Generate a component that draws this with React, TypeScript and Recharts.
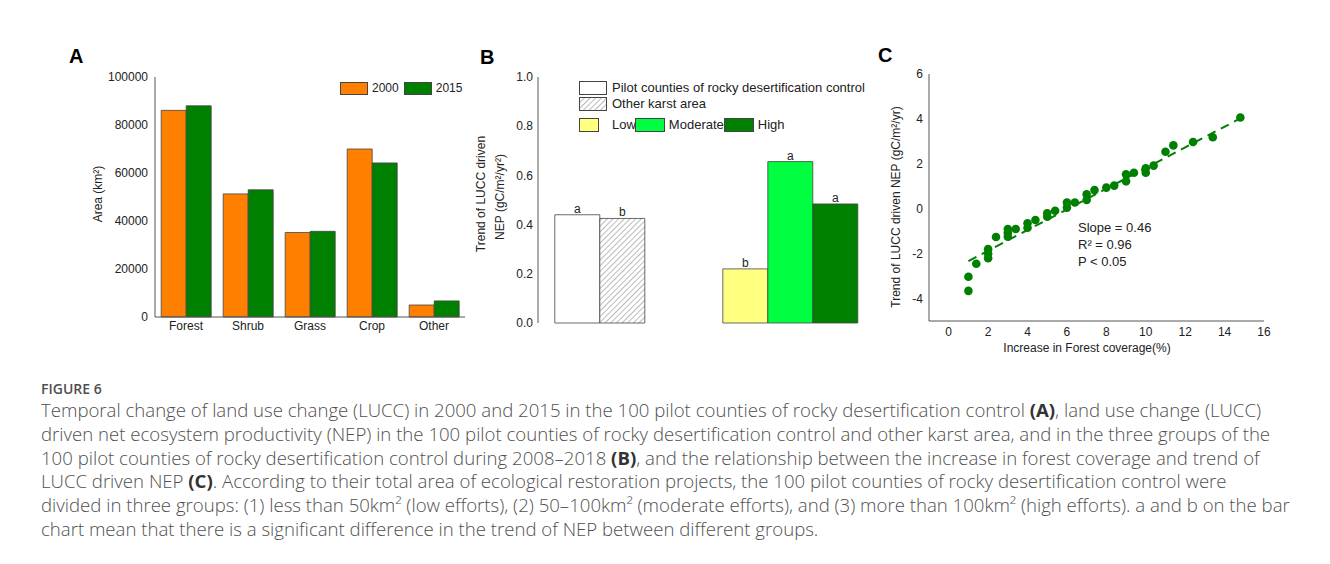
import React from "react"
import {
  Bar,
  BarChart,
  Cell,
  LabelList,
  Scatter,
  ScatterChart,
  XAxis,
  YAxis,
} from "recharts"

const FONT = "'Liberation Sans', Arial, sans-serif"
const INK = "#222"
const AXIS = "#555"
const EDGE = "#444"
const tick12 = { fontSize: 12, fill: INK, fontFamily: FONT }

/* ---------- A: land use area ---------- */

const landTypes = ["Forest", "Shrub", "Grass", "Crop", "Other"]
const area2000 = [86100, 51300, 35200, 70000, 5000]
const area2015 = [88000, 53000, 35700, 64200, 6700]
const areaTicks = [0, 20000, 40000, 60000, 80000, 100000]
const yearKeys = ["2000", "2015"]
const yearColors = ["#FF8000", "#008000"]

const landData = landTypes.map((t, i) => ({ type: t, a2000: area2000[i], a2015: area2015[i] }))

/* ---------- B: LUCC driven NEP trend ---------- */

const groups = ["Karst", "Effort"]
const firstBar = [0.44, 0.22]
const secondBar = [0.425, 0.656]
const thirdBar = [null, 0.484]
const firstLetters = ["a", "b"]
const secondLetters = ["b", "a"]
const thirdLetters = [null, "a"]
const firstFills = ["#ffffff", "#FFFF80"]
const secondFills = ["url(#hatch)", "#00FF40"]
const thirdFills = ["none", "#008000"]
const nepTicks = [0, 0.2, 0.4, 0.6, 0.8, 1.0]

const nepData = groups.map((g, i) => ({
  g,
  v1: firstBar[i],
  v2: secondBar[i],
  v3: thirdBar[i],
  l1: firstLetters[i],
  l2: secondLetters[i],
  l3: thirdLetters[i],
}))

const areaLegend = [
  { label: "Pilot counties of rocky desertification control", fill: "#ffffff" },
  { label: "Other karst area", fill: "hatch" },
]
const effortLegend = [
  { label: "Low", fill: "#FFFF80" },
  { label: "Moderate", fill: "#00FF40" },
  { label: "High", fill: "#008000" },
]

/* ---------- C: forest coverage vs NEP ---------- */

const coverGain = [1, 1, 1.4, 2, 2, 2, 2.4, 3, 3, 3, 3.4, 4, 4, 4.4, 5, 5, 5.4, 6, 6, 6.4, 7, 7, 7.4, 8, 8.4, 9, 9, 9.4, 10, 10, 10.4, 11, 11.4, 12.4, 13.4, 14.8]
const nepTrend = [-3.03, -3.66, -2.45, -1.8, -2.0, -2.2, -1.26, -0.9, -1.07, -1.25, -0.9, -0.65, -0.85, -0.5, -0.2, -0.36, -0.09, 0.28, 0.05, 0.28, 0.64, 0.39, 0.83, 0.94, 1.03, 1.53, 1.22, 1.6, 1.8, 1.6, 1.92, 2.54, 2.82, 2.97, 3.18, 4.06]
const fitX = [1, 14.8]
const fitY = [-2.33, 4.02]
const gainTicks = [0, 2, 4, 6, 8, 10, 12, 14, 16]
const trendTicks = [-4, -2, 0, 2, 4, 6]
const statLines = ["Slope = 0.46", "R² = 0.96", "P < 0.05"]

const points = coverGain.map((x, i) => ({ x, y: nepTrend[i] }))
const fitLine = fitX.map((x, i) => ({ x, y: fitY[i] }))

/* ---------- caption ---------- */

const bold = { fontWeight: 700, color: "#333" }
const captionLines: React.ReactNode[] = [
  <>Temporal change of land use change (LUCC) in 2000 and 2015 in the 100 pilot counties of rocky desertification control <span style={bold}>(A)</span>, land use change (LUCC)</>,
  <>driven net ecosystem productivity (NEP) in the 100 pilot counties of rocky desertification control and other karst area, and in the three groups of the</>,
  <>100 pilot counties of rocky desertification control during 2008–2018 <span style={bold}>(B)</span>, and the relationship between the increase in forest coverage and trend of</>,
  <>LUCC driven NEP <span style={bold}>(C)</span>. According to their total area of ecological restoration projects, the 100 pilot counties of rocky desertification control were</>,
  <>divided in three groups: (1) less than 50km² (low efforts), (2) 50–100km² (moderate efforts), and (3) more than 100km² (high efforts). a and b on the bar</>,
  <>chart mean that there is a significant difference in the trend of NEP between different groups.</>,
]

function VTitle({ x, y, text, size = 12 }: { x: number; y: number; text: string; size?: number }) {
  return (
    <div
      style={{
        position: "absolute",
        left: x,
        top: y,
        transform: "translate(-50%, -50%) rotate(-90deg)",
        whiteSpace: "nowrap",
        fontSize: size,
        color: INK,
        lineHeight: 1,
      }}
    >
      {text}
    </div>
  )
}

function PanelTag({ x, y, text }: { x: number; y: number; text: string }) {
  return (
    <div style={{ position: "absolute", left: x, top: y, fontSize: 20, fontWeight: 700, color: "#000", lineHeight: "20px" }}>
      {text}
    </div>
  )
}

function Swatch({ fill, w, h }: { fill: string; w: number; h: number }) {
  return (
    <svg width={w} height={h} style={{ display: "block" }}>
      <defs>
        <pattern id="hatchLegend" width="4" height="4" patternUnits="userSpaceOnUse" patternTransform="rotate(45)">
          <line x1="0" y1="0" x2="0" y2="4" stroke="#777" strokeWidth="1" />
        </pattern>
      </defs>
      <rect x={0.5} y={0.5} width={w - 1} height={h - 1} fill={fill === "hatch" ? "url(#hatchLegend)" : fill} stroke={EDGE} />
    </svg>
  )
}

function LandChart() {
  return (
    <div style={{ position: "absolute", left: 60, top: 50 }}>
      <BarChart width={420} height={300} data={landData} margin={{ top: 27, right: 15, bottom: 0, left: 0 }} barCategoryGap="10%" barGap={0}>
        <XAxis dataKey="type" height={33} tickLine={false} tickSize={0} tickMargin={4} axisLine={{ stroke: AXIS }} tick={tick12} />
        <XAxis xAxisId="top" orientation="top" dataKey="type" height={0} tick={false} tickLine={false} axisLine={{ stroke: AXIS }} />
        <YAxis width={95} domain={[0, 100000]} ticks={areaTicks} tickLine={false} tickSize={0} tickMargin={7} axisLine={{ stroke: AXIS }} tick={tick12} />
        <YAxis yAxisId="right" orientation="right" type="number" domain={[0, 1]} width={0} tick={false} tickLine={false} axisLine={{ stroke: AXIS }} />
        <Bar dataKey="a2000" fill={yearColors[0]} stroke={EDGE} strokeWidth={0.8} isAnimationActive={false} />
        <Bar dataKey="a2015" fill={yearColors[1]} stroke={EDGE} strokeWidth={0.8} isAnimationActive={false} />
      </BarChart>
      <div style={{ position: "absolute", left: 280, top: 31, display: "flex", alignItems: "center", fontSize: 12, color: INK }}>
        {yearKeys.map((k, i) => (
          <div key={k} style={{ display: "flex", alignItems: "center", marginRight: 5 }}>
            <Swatch fill={yearColors[i]} w={28} h={13} />
            <span style={{ marginLeft: 4 }}>{k}</span>
          </div>
        ))}
      </div>
    </div>
  )
}

function NepChart() {
  return (
    <div style={{ position: "absolute", left: 470, top: 50 }}>
      <BarChart width={420} height={300} data={nepData} margin={{ top: 27, right: 16, bottom: 27, left: 0 }} barCategoryGap="10%" barGap={0}>
        <defs>
          <pattern id="hatch" width="4" height="4" patternUnits="userSpaceOnUse" patternTransform="rotate(45)">
            <rect width="4" height="4" fill="#fff" />
            <line x1="0" y1="0" x2="0" y2="4" stroke="#777" strokeWidth="1" />
          </pattern>
        </defs>
        <XAxis dataKey="g" height={0} tick={false} tickLine={false} axisLine={{ stroke: AXIS }} />
        <XAxis xAxisId="top" orientation="top" dataKey="g" height={0} tick={false} tickLine={false} axisLine={{ stroke: AXIS }} />
        <YAxis width={68} domain={[0, 1]} ticks={nepTicks} tickFormatter={(v: number) => v.toFixed(1)} tickLine={false} tickSize={0} tickMargin={5} axisLine={{ stroke: AXIS }} tick={tick12} />
        <YAxis yAxisId="right" orientation="right" type="number" domain={[0, 1]} width={0} tick={false} tickLine={false} axisLine={{ stroke: AXIS }} />
        <Bar dataKey="v1" stroke={EDGE} strokeWidth={0.8} isAnimationActive={false}>
          {nepData.map((d, i) => <Cell key={d.g} fill={firstFills[i]} />)}
          <LabelList dataKey="l1" position="top" offset={2} style={tick12} />
        </Bar>
        <Bar dataKey="v2" stroke={EDGE} strokeWidth={0.8} isAnimationActive={false}>
          {nepData.map((d, i) => <Cell key={d.g} fill={secondFills[i]} />)}
          <LabelList dataKey="l2" position="top" offset={2} style={tick12} />
        </Bar>
        <Bar dataKey="v3" stroke={EDGE} strokeWidth={0.8} isAnimationActive={false}>
          {nepData.map((d, i) => <Cell key={d.g} fill={thirdFills[i]} />)}
          <LabelList dataKey="l3" position="top" offset={2} style={tick12} />
        </Bar>
      </BarChart>
      <div style={{ position: "absolute", left: 109, top: 30, fontSize: 13, color: INK, lineHeight: "16px" }}>
        {areaLegend.map((l) => (
          <div key={l.label} style={{ display: "flex", alignItems: "center", height: 16 }}>
            <Swatch fill={l.fill} w={28} h={14} />
            <span style={{ marginLeft: 5, whiteSpace: "nowrap" }}>{l.label}</span>
          </div>
        ))}
        <div style={{ display: "flex", alignItems: "center", height: 16, marginTop: 5 }}>
          {effortLegend.map((l, i) => (
            <div key={l.label} style={{ display: "flex", alignItems: "center" }}>
              <Swatch fill={l.fill} w={i === 0 ? 20 : 30} h={14} />
              <span style={{ marginLeft: i === 0 ? 13 : 4, marginRight: i === 0 ? -1 : 0 }}>{l.label}</span>
            </div>
          ))}
        </div>
      </div>
    </div>
  )
}

function ForestChart() {
  const dot = (p: { cx?: number; cy?: number }) => <circle cx={p.cx} cy={p.cy} r={4.3} fill="#008000" />
  return (
    <div style={{ position: "absolute", left: 870, top: 50 }}>
      <ScatterChart width={420} height={310} margin={{ top: 24, right: 26, bottom: 0, left: 0 }}>
        <XAxis dataKey="x" type="number" domain={[-1, 16]} ticks={gainTicks} height={39} tickSize={0} tickMargin={6} tickLine={false} axisLine={{ stroke: AXIS }} tick={tick12} />
        <XAxis xAxisId="top" orientation="top" dataKey="x" type="number" domain={[-1, 16]} height={0} tick={false} tickLine={false} axisLine={{ stroke: AXIS }} />
        <YAxis dataKey="y" type="number" domain={[-5, 6]} ticks={trendTicks} width={59} tickSize={0} tickMargin={6} tickLine={false} axisLine={{ stroke: AXIS }} tick={tick12} />
        <YAxis yAxisId="right" orientation="right" type="number" domain={[-5, 6]} width={0} tick={false} tickLine={false} axisLine={{ stroke: AXIS }} />
        <Scatter data={fitLine} shape={() => <g />} line={{ stroke: "#008000", strokeWidth: 2, strokeDasharray: "9 6" }} isAnimationActive={false} />
        <Scatter data={points} shape={dot} isAnimationActive={false} />
      </ScatterChart>
    </div>
  )
}

export default function App() {
  return (
    <div style={{ position: "relative", width: 1330, height: 564, margin: -8, overflow: "hidden", background: "#fff", fontFamily: FONT }}>
      <div style={{ position: "absolute", left: 6, top: 7, width: 1324, height: 700, border: "1px solid #c4c4c4", boxSizing: "border-box" }} />

      <PanelTag x={69} y={46} text="A" />
      <PanelTag x={480} y={47} text="B" />
      <PanelTag x={878} y={45} text="C" />

      <LandChart />
      <NepChart />
      <ForestChart />

      <VTitle x={98} y={194} text="Area (km²)" />
      <VTitle x={481} y={194} text="Trend of LUCC driven" />
      <VTitle x={500} y={197} text="NEP (gC/m²/yr²)" />
      <VTitle x={896} y={207} text="Trend of LUCC driven NEP (gC/m²/yr)" />
      <div style={{ position: "absolute", left: 1087, top: 348, transform: "translate(-50%, -50%)", fontSize: 12, color: INK, whiteSpace: "nowrap", lineHeight: 1 }}>
        Increase in Forest coverage(%)
      </div>
      <div style={{ position: "absolute", left: 1078, top: 219, fontSize: 13, color: INK, lineHeight: "17px" }}>
        {statLines.map((s) => <div key={s}>{s}</div>)}
      </div>

      <div style={{ position: "absolute", left: 41, top: 380, fontFamily: "'Open Sans', sans-serif", color: "#4f4f4f" }}>
        <div style={{ fontSize: 14, fontWeight: 600, lineHeight: "18px" }}>FIGURE 6</div>
        <div style={{ fontSize: 18.6, fontWeight: 300, lineHeight: "23.8px", whiteSpace: "nowrap" }}>
          {captionLines.map((l, i) => <div key={i}>{l}</div>)}
        </div>
      </div>
    </div>
  )
}
